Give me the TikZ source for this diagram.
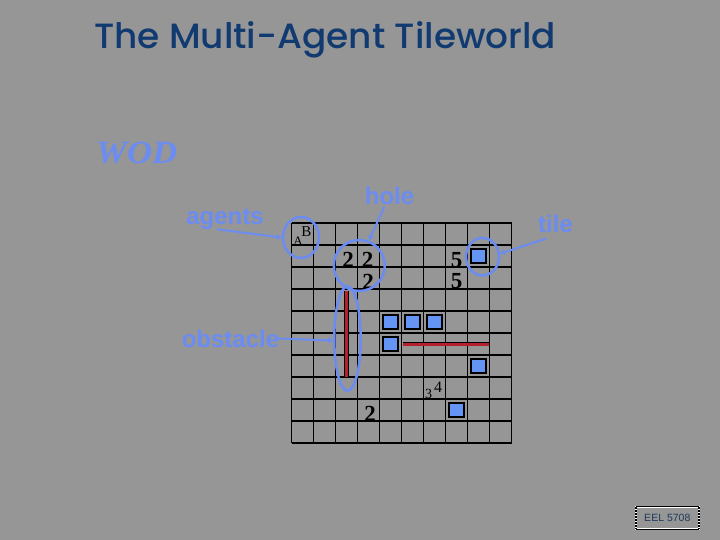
\documentclass[tikz,border=0pt]{standalone}
\usepackage{fontspec}
\setmainfont{Liberation Serif}
\newfontfamily\sansf{Liberation Sans}
\newfontfamily\titlef{Poppins Medium}
\usetikzlibrary{shapes.geometric,arrows.meta}
\definecolor{bg}{HTML}{969696}
\definecolor{callout}{HTML}{6B8CF2}
\definecolor{navy}{HTML}{113B70}
\definecolor{tileblue}{HTML}{6495F5}
\definecolor{obst}{HTML}{B5202E}
\definecolor{eelnavy}{HTML}{1E3A5C}
\begin{document}
\begin{tikzpicture}[x=1pt,y=-1pt,
  lbl/.style={text=callout, font=\sansf\bfseries\fontsize{24}{24}\selectfont, inner sep=0pt, anchor=base},
  ring/.style={draw=callout, line width=2.5pt, ellipse, inner sep=0pt},
  conn/.style={draw=callout, line width=2pt, -{Triangle[length=5pt,width=5.5pt]}},
  gridln/.style={line width=1.8pt, black},
  tilesq/.style={draw=black, fill=tileblue, line width=1.6pt, minimum size=14.5pt, inner sep=0pt},
  digit/.style={font=\bfseries\fontsize{23}{23}\selectfont, inner sep=0pt, anchor=base},
  wallout/.style={line width=4.2pt, black},
  wallin/.style={line width=2.4pt, obst}
]
\fill[bg] (0,0) rectangle (720,540);
\useasboundingbox (0,0) rectangle (720,540);

% title
\node[anchor=base west, inner sep=0pt, text=navy] (title) at (94,48.3)
  {\resizebox{462pt}{27pt}{\titlef The Multi-Agent Tileworld}};

% WOD
\node[anchor=base west, inner sep=0pt, text=callout] (wod) at (96,163.5)
  {\resizebox{81pt}{21.5pt}{\bfseries\itshape WOD}};

% grid
\foreach \i in {0,...,10} {
  \draw[gridln] (291.5+22*\i,223) -- (291.5+22*\i,443);
  \draw[gridln] (291.5,223+22*\i) -- (511.5,223+22*\i);
}

% tiles
\foreach \c/\r/\n in {8/1/t1,4/4/t2,5/4/t3,6/4/t4,4/5/t5,8/6/t6,7/8/t7}
  \node[tilesq] (\n) at (302.5+22*\c,234+22*\r) {};

% obstacles
\coordinate (w1a) at (346.5,291);
\coordinate (w1b) at (346.5,377);
\coordinate (w2a) at (403,344.3);
\coordinate (w2b) at (488.5,344.3);
\draw[wallout] (w1a) -- (w1b);
\draw[wallin] (w1a) -- (w1b);
\draw[wallout] (w2a) -- (w2b);
\draw[wallin] (w2a) -- (w2b);

% numbers
\node[digit] (n1) at (348,267.3) {2};
\node[digit] (n2) at (367.5,267.3) {2};
\node[digit] (n3) at (368,289.5) {2};
\node[inner sep=0pt, anchor=south, align=center, font=\bfseries\fontsize{23}{20.5}\selectfont] (n4) at (456.7,288.5) {5\\5};
\node[digit] (n6) at (370,421.5) {2};
\node[anchor=base, inner sep=0pt, font=\fontsize{13}{13}\selectfont] (agA) at (298,245.5) {A};
\node[anchor=base, inner sep=0pt, font=\fontsize{15}{15}\selectfont] (agB) at (306.3,236.7) {B};
\node[anchor=base, inner sep=0pt, font=\fontsize{14}{14}\selectfont] (n7) at (428.5,398) {3};
\node[anchor=base, inner sep=0pt, font=\fontsize{16}{16}\selectfont] (n8) at (438,392) {4};

% callout rings
\node[ring, minimum width=36pt, minimum height=41pt] (agentsC) at (301,237.5) {};
\node[ring, minimum width=51pt, minimum height=51pt] (holeC) at (359.3,265.5) {};
\node[ring, minimum width=33pt, minimum height=37.5pt] (tileC) at (482.5,256.7) {};
\node[ring, minimum width=26.5pt, minimum height=104.5pt] (obstC) at (347.5,338.5) {};

% labels
\node[lbl] (agentsL) at (225,225) {agents};
\node[lbl] (holeL) at (389.5,205) {hole};
\node[lbl] (tileL) at (555.5,233) {tile};
\node[lbl] (obstL) at (230.5,347) {obstacle};

% connectors
\draw[conn] ([xshift=-8pt,yshift=1pt]agentsL.south) -- (agentsC.west);
\draw[conn] ([xshift=-5pt,yshift=-1pt]holeL.south) -- (holeC.69);
\draw[conn] ([xshift=-9pt,yshift=-5pt]tileL.south) -- (tileC.10);
\draw[conn] ([xshift=-2pt]obstL.east) -- (obstC.188);

% footer box
\node[inner sep=0pt, minimum width=62.5pt, minimum height=21pt, text=eelnavy,
      font=\sansf\fontsize{10.5}{10.5}\selectfont] (eel) at (667.3,518) {EEL 5708};
\draw[white, line width=2pt] (eel.north west) rectangle (eel.south east);
\draw[black, line width=2pt, dash pattern=on 1.5pt off 1.5pt] (eel.north west) -- (eel.south west);
\draw[black, line width=2pt, dash pattern=on 1.5pt off 1.5pt] (eel.north east) -- (eel.south east);
\draw[black, line width=1pt] ([yshift=0.5pt]eel.north west) -- ([yshift=0.5pt]eel.north east);
\draw[black, line width=1pt] ([yshift=-0.5pt]eel.south west) -- ([yshift=-0.5pt]eel.south east);
\end{tikzpicture}
\end{document}
